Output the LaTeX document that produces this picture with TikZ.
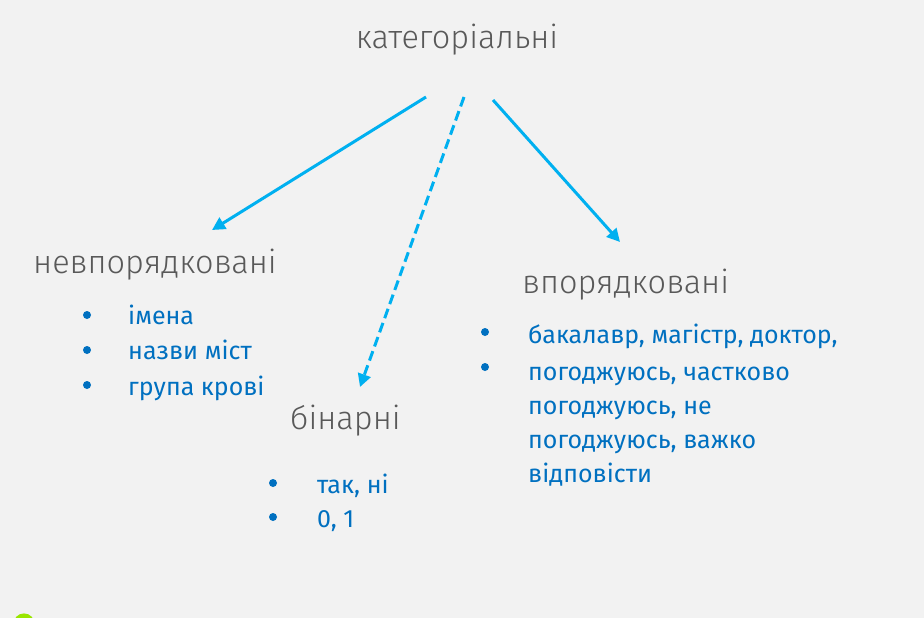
\documentclass[tikz,border=0pt]{standalone}
\usepackage{fontspec}
\setmainfont{Fira Sans Light}
\newfontfamily\itemfont{Fira Sans}
\usetikzlibrary{arrows.meta}
\definecolor{bg}{RGB}{242,242,242}
\definecolor{headgray}{RGB}{89,89,89}
\definecolor{itemblue}{RGB}{0,112,192}
\definecolor{arrowblue}{RGB}{0,176,240}
\definecolor{dotgreen}{RGB}{153,230,0}
\begin{document}
\begin{tikzpicture}[x=1pt,y=-1pt,
 head/.style={text=headgray,font=\fontsize{32.5}{40}\selectfont,inner sep=0pt,anchor=base west},
 item/.style={text=itemblue,font=\itemfont\fontsize{25}{35}\selectfont,inner sep=0pt,anchor=base west,align=left},
 bul/.style={circle,fill=itemblue,minimum size=8pt,inner sep=0pt},
 conn/.style={arrowblue,line width=3pt,-{Triangle[length=13pt,width=13pt]}},
]
\fill[bg] (0,0) rectangle (924,618);
\useasboundingbox (0,0) rectangle (924,618);
\begin{scope}
\clip (0,0) rectangle (924,618);
\fill[dotgreen] (24,624) circle (10.6);
\end{scope}

% headings
\node[head,anchor=base] (cat) at (457,49) {категоріальні};
\node[head] (unord) at (33,273) {невпорядковані};
\node[head] (bin) at (290,429) {бінарні};
\node[head] (ord) at (522,293) {впорядковані};

% unordered list
\node[bul] (b1) at (87,315) {};
\node[bul] (b2) at (87,350) {};
\node[bul] (b3) at (87,385) {};
\node[item] (i1) at (128,324) {імена};
\node[item] (i2) at (128,359) {назви міст};
\node[item] (i3) at (128,395) {група крові};

% binary list
\node[bul] (b4) at (273,483) {};
\node[bul] (b5) at (273,517) {};
\node[item] (i4) at (317,493) {так, ні};
\node[item] (i5) at (317,527) {0, 1};

% ordered list
\node[bul] (b6) at (485,332) {};
\node[bul] (b7) at (485,367) {};
\node[item] (i6) at (528,343) {бакалавр, магістр, доктор,};
\node[item] (i7) at (528,380) {погоджуюсь, частково};
\node[item] (i8) at (528,414) {погоджуюсь, не};
\node[item] (i9) at (528,448) {погоджуюсь, важко};
\node[item] (i10) at (528,482) {відповісти};

% connectors
\coordinate (sL) at (426,97);
\coordinate (sM) at (464,97);
\coordinate (sR) at (493,100);
\coordinate (eL) at (212,230);
\coordinate (eM) at (360,387);
\coordinate (eR) at (620,242);
\draw[conn] (sL) -- (eL);
\draw[conn,dash pattern=on 10pt off 5pt] (sM) -- (eM);
\draw[conn] (sR) -- (eR);
\end{tikzpicture}
\end{document}
